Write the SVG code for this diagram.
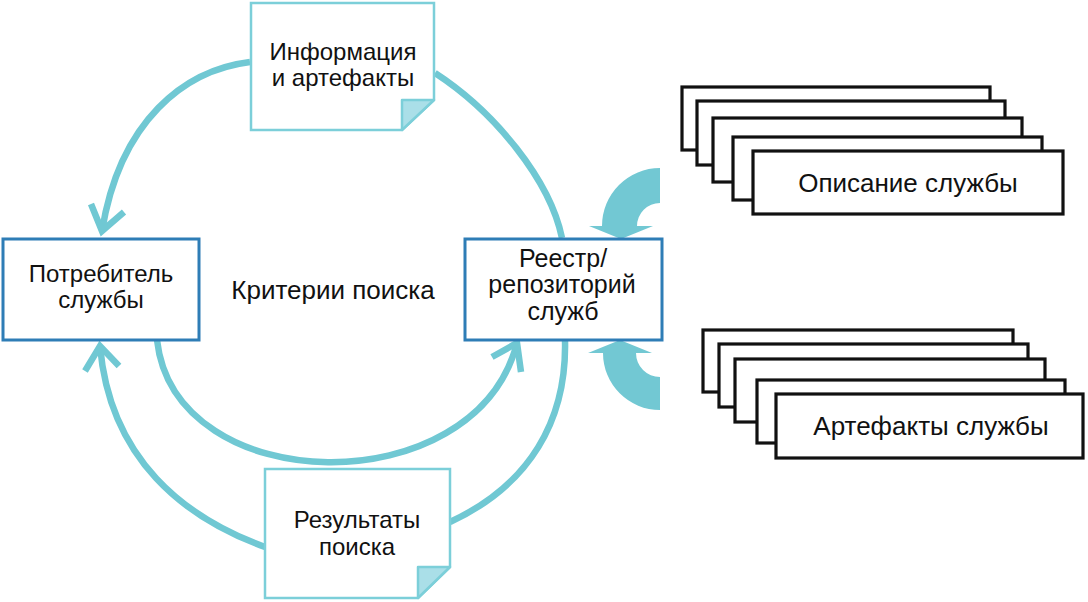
<svg xmlns="http://www.w3.org/2000/svg" width="1088" height="602" viewBox="0 0 1088 602">
<style>
.t{font-family:"Liberation Sans",Arial,sans-serif;font-size:24px;fill:#111;text-anchor:middle}
.l{font-size:26px}
.r{font-size:25px}
.c{fill:none;stroke:#70c8d3;stroke-width:6.5}
.ah{fill:none;stroke:#70c8d3;stroke-width:6.5;stroke-linejoin:miter;stroke-linecap:butt}
.box{fill:#fff;stroke:#2e7db6;stroke-width:3}
.doc{fill:#fff;stroke:#7ccfd9;stroke-width:2.5}
.fold{fill:#aadfe8;stroke:#7ccfd9;stroke-width:2.5;stroke-linejoin:round}
.blk{fill:#fff;stroke:#111;stroke-width:3.2}
.big{fill:#72c8d3}
</style>
<rect width="1088" height="602" fill="#fff"/>
<g id="connectors">
<path class="c" d="M250,62 C185,70 120,120 102,231"/>
<polyline class="ah" points="91,204 102,231 124,212"/>
<path class="c" d="M265,547 C185,518 110,460 100,346"/>
<polyline class="ah" points="85,371 100,346 119,366"/>
<path class="c" d="M157,340 C175,500 475,505 517,343"/>
<polyline class="ah" points="492,357 517,343 521,372"/>
<path class="c" d="M435,73 C495,112 550,180 562,238"/>
<path class="c" d="M565,340 C567,420 530,485 450,522"/>
<path class="big" d="M660,168 A58,58 0 0 0 602,226 L589,226 L621,239 L653,226 L637,226 A23,23 0 0 1 660,203 Z"/>
<path class="big" d="M660,410 A57,57 0 0 1 603,353 L588,353 L620,340 L652,353 L636,353 A24,24 0 0 0 660,377 Z"/>
</g>
<g id="info">
<polygon class="doc" points="251,3 434,3 434,100 402,130 251,130"/>
<polygon class="fold" points="402,100 434,100 402,130"/>
<text class="t" x="343" y="60">Информация</text>
<text class="t" x="343" y="86">и артефакты</text>
</g>
<g id="results">
<polygon class="doc" points="265,469 450,469 450,567 418,598 265,598"/>
<polygon class="fold" points="418,567 450,567 418,598"/>
<text class="t" x="357" y="528">Результаты</text>
<text class="t" x="357" y="555">поиска</text>
</g>
<g id="consumer">
<rect class="box" x="3" y="239" width="196" height="101"/>
<text class="t" x="101" y="282">Потребитель</text>
<text class="t" x="101" y="308">службы</text>
</g>
<g id="registry">
<rect class="box" x="465" y="239" width="197" height="101"/>
<text class="t r" x="563" y="267">Реестр/</text>
<text class="t r" x="562" y="293">репозиторий</text>
<text class="t r" x="563" y="320">служб</text>
</g>
<g id="criteria">
<text class="t l" x="333" y="299">Критерии поиска</text>
</g>
<g id="descriptions">
<rect class="blk" x="682" y="87" width="308" height="63"/>
<rect class="blk" x="697" y="101" width="308" height="64"/>
<rect class="blk" x="713" y="118" width="309" height="64"/>
<rect class="blk" x="733" y="137" width="309" height="63"/>
<rect class="blk" x="753" y="151" width="310" height="63"/>
<text class="t l" x="908" y="192">Описание службы</text>
</g>
<g id="artifacts">
<rect class="blk" x="703" y="330" width="310" height="62"/>
<rect class="blk" x="719" y="344" width="309" height="63"/>
<rect class="blk" x="735" y="359" width="310" height="63"/>
<rect class="blk" x="757" y="380" width="308" height="63"/>
<rect class="blk" x="776" y="394" width="307" height="64"/>
<text class="t l" x="931" y="435">Артефакты службы</text>
</g>
</svg>
